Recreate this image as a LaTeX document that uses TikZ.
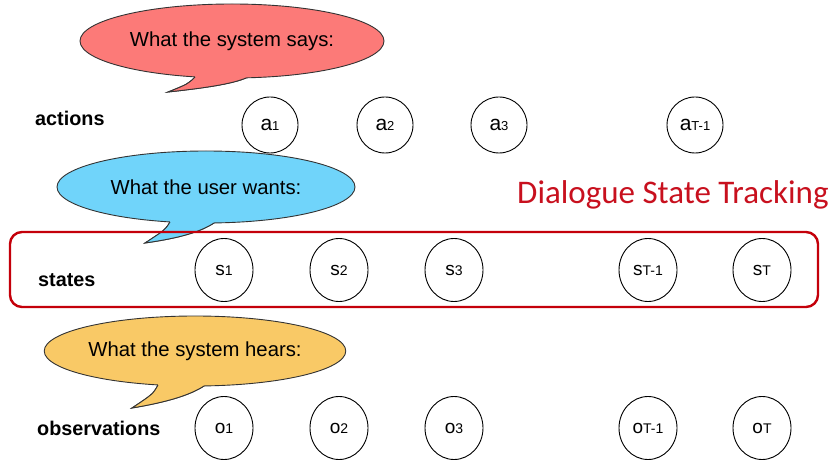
\documentclass[tikz,border=0pt]{standalone}
\usepackage{fontspec}
\setmainfont{Liberation Sans}
\newfontfamily\calib{Carlito}
\usetikzlibrary{shapes.geometric}
\definecolor{bubred}{RGB}{252,122,120}
\definecolor{bubblue}{RGB}{112,212,250}
\definecolor{buborange}{RGB}{249,201,102}
\definecolor{dstred}{RGB}{200,16,30}
\definecolor{boxred}{RGB}{196,0,10}
\newcommand{\mylbl}[4]{{\fontsize{#3}{#3}\selectfont #1}{\fontsize{#4}{#4}\selectfont #2}}
\tikzset{
  bubble/.style={ellipse, draw=black!80, line width=0.9pt, inner sep=0pt, font=\fontsize{20.3}{22}\selectfont},
  rowlabel/.style={anchor=west, font=\bfseries\fontsize{19.8}{20}\selectfont, inner sep=0pt},
  actnode/.style={circle, draw, line width=0.9pt, minimum size=56pt, inner sep=0pt},
  varnode/.style={ellipse, draw, line width=0.9pt, minimum width=58pt, minimum height=63pt, inner sep=0pt},
  tailline/.style={draw=black!80, line width=0.9pt},
}
\begin{document}
\begin{tikzpicture}[x=1pt,y=-1pt]
\useasboundingbox (0,0) rectangle (840,470);
\fill[white] (0,0) rectangle (840,470);

% ---------- red bubble ----------
\filldraw[fill=bubred, tailline] (195,77) .. controls (188,84) .. (168,92) .. controls (205,88) and (232,84) .. (246,78) -- cycle;
\node[bubble, fill=bubred, minimum width=304pt, minimum height=74pt] (says) at (232,41) {What the system says:};
\fill[bubred] (195,72) -- (195,77) .. controls (188,84) .. (168,92) .. controls (205,88) and (232,84) .. (246,78) -- (246,73) -- cycle;
\draw[tailline] (195,77) .. controls (188,84) .. (168,92) .. controls (205,88) and (232,84) .. (246,78);

% ---------- blue bubble ----------
\filldraw[fill=bubblue, tailline] (170,222) .. controls (165,230) .. (145,243) .. controls (180,238) and (200,232) .. (214,223) -- cycle;
\node[bubble, fill=bubblue, minimum width=298pt, minimum height=72pt] (wants) at (206,187) {What the user wants:};
\fill[bubblue] (170,217) -- (170,222) .. controls (165,230) .. (145,243) .. controls (180,238) and (200,232) .. (214,223) -- (214,218) -- cycle;
\draw[tailline] (170,222) .. controls (165,230) .. (145,243) .. controls (180,238) and (200,232) .. (214,223);

% ---------- orange bubble ----------
\filldraw[fill=buborange, tailline] (158,385) .. controls (153,394) .. (132,408) .. controls (168,402) and (190,395) .. (204,386) -- cycle;
\node[bubble, fill=buborange, minimum width=300pt, minimum height=70pt] (hears) at (195,351) {What the system hears:};
\fill[buborange] (158,380) -- (158,385) .. controls (153,394) .. (132,408) .. controls (168,402) and (190,395) .. (204,386) -- (204,381) -- cycle;
\draw[tailline] (158,385) .. controls (153,394) .. (132,408) .. controls (168,402) and (190,395) .. (204,386);

% ---------- DST box ----------
\draw[boxred, line width=2.4pt, rounded corners=12pt] (10,232) rectangle (818,307);
\node[anchor=west, text=dstred, font=\calib\fontsize{33}{34}\selectfont, inner sep=0pt] (dst) at (517,195) {Dialogue State Tracking};

% ---------- row labels ----------
\node[rowlabel] (lact) at (35,118) {actions};
\node[rowlabel] (lsta) at (38,280) {states};
\node[rowlabel] (lobs) at (37,428) {observations};

% ---------- actions ----------
\node[actnode] (a1) at (270,125) {\mylbl{a}{1}{21}{13}};
\node[actnode] (a2) at (385,125) {\mylbl{a}{2}{21}{13}};
\node[actnode] (a3) at (499,125) {\mylbl{a}{3}{21}{13}};
\node[actnode] (aT1) at (695,125) {\mylbl{a}{T-1}{21}{13}};

% ---------- states ----------
\node[varnode] (s1) at (224,270) {\mylbl{s}{1}{19}{14}};
\node[varnode] (s2) at (339,270) {\mylbl{s}{2}{19}{14}};
\node[varnode] (s3) at (454,270) {\mylbl{s}{3}{19}{14}};
\node[varnode] (sT1) at (648,270) {\mylbl{s}{T-1}{19}{14}};
\node[varnode] (sT) at (762,270) {\mylbl{s}{T}{19}{14}};

% ---------- observations ----------
\node[varnode] (o1) at (224,428) {\mylbl{o}{1}{19}{14}};
\node[varnode] (o2) at (339,428) {\mylbl{o}{2}{19}{14}};
\node[varnode] (o3) at (454,428) {\mylbl{o}{3}{19}{14}};
\node[varnode] (oT1) at (648,428) {\mylbl{o}{T-1}{19}{14}};
\node[varnode] (oT) at (762,428) {\mylbl{o}{T}{19}{14}};
\end{tikzpicture}
\end{document}
